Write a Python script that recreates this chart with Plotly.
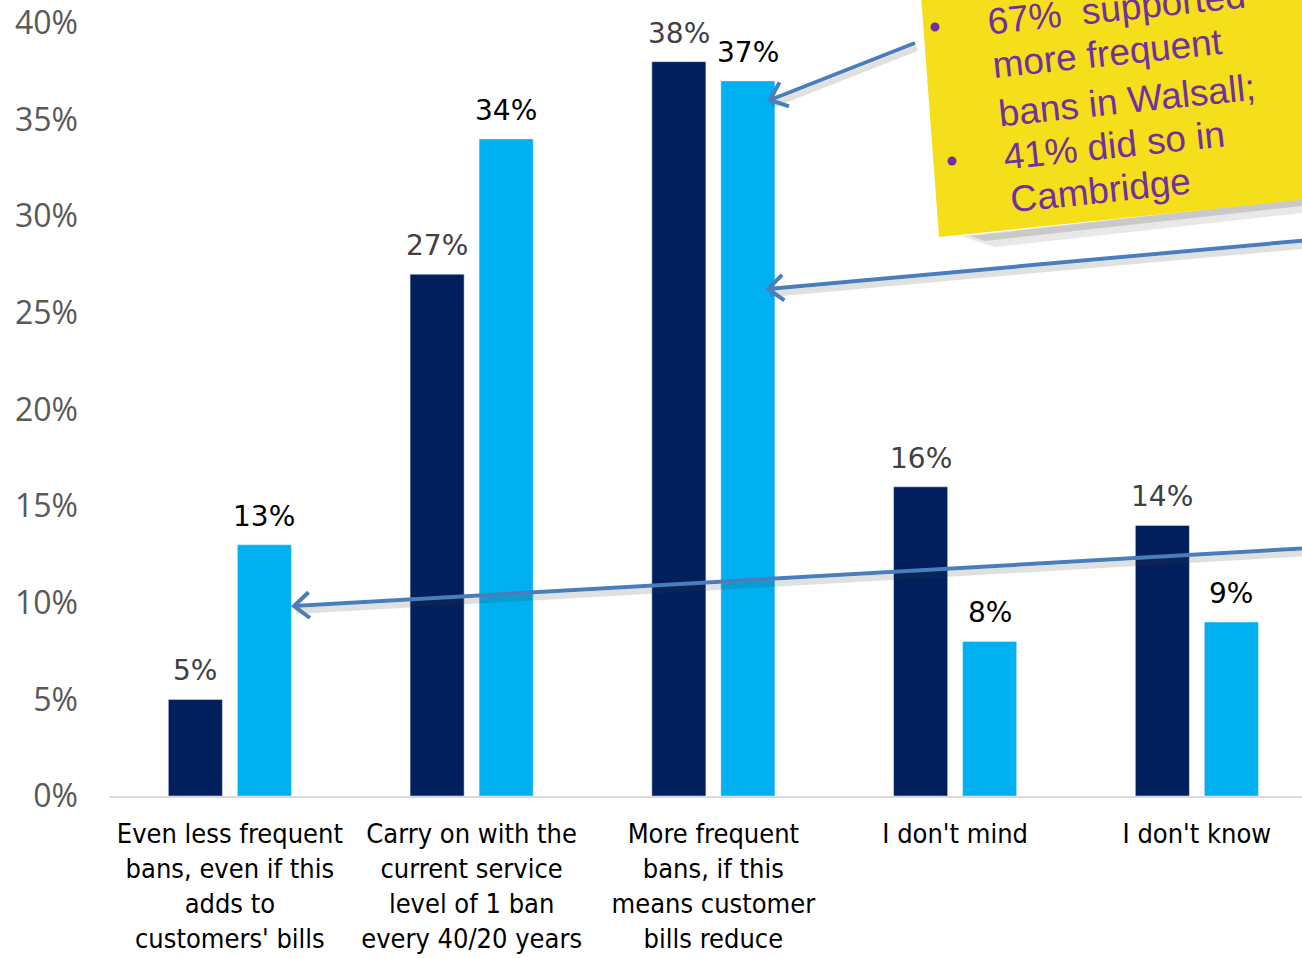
import math
import plotly.graph_objects as go

categories = [
    "Even less frequent<br>bans, even if this<br>adds to<br>customers' bills",
    "Carry on with the<br>current service<br>level of 1 ban<br>every 40/20 years",
    "More frequent<br>bans, if this<br>means customer<br>bills reduce",
    "I don't mind",
    "I don't know",
]
series_dark = [5, 27, 38, 16, 14]
series_light = [13, 34, 37, 8, 9]
y_ticks = [0, 5, 10, 15, 20, 25, 30, 35, 40]
y_tick_labels = ["0%", "5%", "10%", "15%", "20%", "25%", "30%", "35%", "40%"]
note_lines = ["67%  supported", "more frequent", "bans in Walsall;", "41% did so in", "Cambridge"]

W, H = 1302, 958
L, R, T, B = 109, 0, 23, 162
PW, PH = W - L - R, H - T - B
CAT_PX = 241.75          # pixel width of one category
BARGAP = 0.429
GROUPGAP = 0.217
SLOT = CAT_PX * (1 - BARGAP) / 2


def px(x):
    return (x - L) / PW


def py(y):
    return (H - B - y) / PH


xs = list(range(len(categories)))
fig = go.Figure()
fig.add_trace(go.Bar(x=xs, y=series_dark, marker_color="#001F5C", hoverinfo="skip"))
fig.add_trace(go.Bar(x=xs, y=series_light, marker_color="#00B0F0", hoverinfo="skip"))

shapes = []
annotations = []

# value labels, positioned from the data through the axes
for vals, shift, col in [(series_dark, -SLOT / 2, "#404040"), (series_light, SLOT / 2, "#000000")]:
    for i, v in enumerate(vals):
        annotations.append(dict(text=f"{v}%", x=i, y=v, xref="x", yref="y",
                                xshift=shift, yshift=10, xanchor="center", yanchor="bottom",
                                showarrow=False,
                                font=dict(family="DejaVu Sans", size=28, color=col)))

# sticky note shadow
shapes.append(dict(type="path", xref="paper", yref="paper", layer="above",
                   path=f"M {px(960)},{py(236)} L {px(1310)},{py(198)} L {px(1310)},{py(212)} L {px(995)},{py(247)} Z",
                   fillcolor="rgba(90,90,90,0.14)", line=dict(width=0)))
shapes.append(dict(type="path", xref="paper", yref="paper", layer="above",
                   path=f"M {px(970)},{py(236)} L {px(1310)},{py(198)} L {px(1310)},{py(205)} L {px(985)},{py(241)} Z",
                   fillcolor="rgba(90,90,90,0.22)", line=dict(width=0)))
# sticky note
shapes.append(dict(type="path", xref="paper", yref="paper", layer="above",
                   path=f"M {px(921)},{py(-5)} L {px(1310)},{py(-5)} L {px(1310)},{py(199)} L {px(939)},{py(237)} Z",
                   fillcolor="#F5DE1A", line=dict(width=0)))

# bullets
for bx, by in [(935, 27), (952, 161)]:
    shapes.append(dict(type="circle", xref="paper", yref="paper", layer="above",
                       x0=px(bx - 4.5), x1=px(bx + 4.5), y0=py(by + 4.5), y1=py(by - 4.5),
                       fillcolor="#7030A0", line=dict(width=0)))

centers = [(1116, 9), (1107, 54), (1127, 100), (1114, 145), (1100, 190)]
for t, (cx, cy) in zip(note_lines, centers):
    annotations.append(dict(text=t, xref="paper", yref="paper", x=px(cx), y=py(cy),
                            xanchor="center", yanchor="middle", showarrow=False, textangle=-6,
                            font=dict(family="Liberation Sans", size=37, color="#7030A0")))

# arrows
arrows = [((915, 43), (770, 100)), ((1310, 240), (768, 289)), ((1310, 548), (294, 606))]
for (tx, ty), (hx, hy) in arrows:
    shapes.append(dict(type="line", xref="paper", yref="paper", layer="above",
                       x0=px(tx + 2), y0=py(ty + 5), x1=px(hx + 2), y1=py(hy + 5),
                       line=dict(color="rgba(60,60,60,0.16)", width=6)))
    shapes.append(dict(type="line", xref="paper", yref="paper", layer="above",
                       x0=px(tx), y0=py(ty), x1=px(hx), y1=py(hy),
                       line=dict(color="#4A7EBB", width=4)))
    ang = math.atan2(ty - hy, tx - hx)
    arm = 20
    a1 = (hx + arm * math.cos(ang + 0.7), hy + arm * math.sin(ang + 0.7))
    a2 = (hx + arm * math.cos(ang - 0.7), hy + arm * math.sin(ang - 0.7))
    shapes.append(dict(type="path", xref="paper", yref="paper", layer="above",
                       path=f"M {px(a1[0])},{py(a1[1])} L {px(hx)},{py(hy)} L {px(a2[0])},{py(a2[1])}",
                       line=dict(color="#4A7EBB", width=4)))

fig.update_layout(
    width=W, height=H,
    margin=dict(l=L, r=R, t=T, b=B, pad=0),
    paper_bgcolor="white", plot_bgcolor="white",
    barmode="group", bargap=BARGAP, bargroupgap=GROUPGAP,
    showlegend=False,
    shapes=shapes, annotations=annotations,
    xaxis=dict(
        tickmode="array", tickvals=xs, ticktext=categories,
        range=[-0.5, -0.5 + PW / CAT_PX], automargin=False,
        showgrid=False, zeroline=False, showline=True, linecolor="#D9D9D9", linewidth=1.5,
        ticks="", ticklabelstandoff=13,
        tickfont=dict(family="DejaVu Sans Condensed", size=27, color="#000000"),
    ),
    yaxis=dict(
        range=[0, 40], tickmode="array", tickvals=y_ticks, ticktext=y_tick_labels,
        automargin=False,
        showgrid=False, zeroline=False, showline=False, ticks="", ticklabelstandoff=30,
        tickfont=dict(family="Open Sans", size=32, color="#595959"),
    ),
)

fig.write_html("out.html")
